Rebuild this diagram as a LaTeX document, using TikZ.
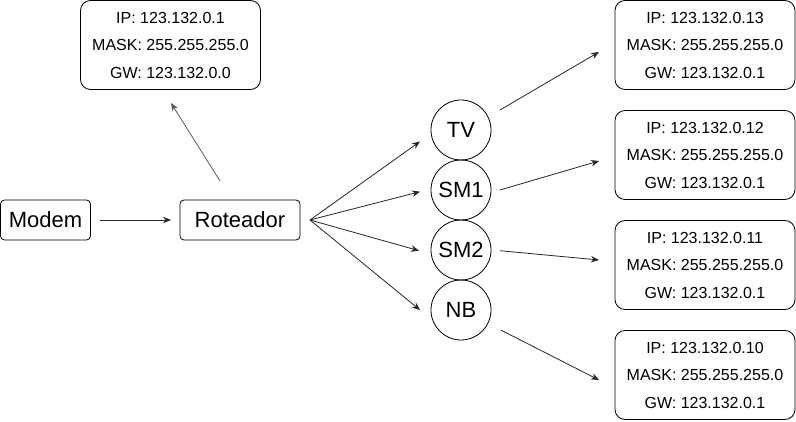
\documentclass[tikz,border=0pt]{standalone}
\usepackage{fontspec}
\setmainfont{Liberation Sans}
\usetikzlibrary{arrows.meta}
\tikzset{
  info/.style={draw, rounded corners=10pt, minimum width=180pt, minimum height=89pt, inner sep=0pt, outer sep=0pt, align=center, font=\fontsize{16}{27.5}\selectfont, line width=0.8pt},
  dev/.style={draw, rounded corners=4pt, minimum height=40pt, inner sep=0pt, outer sep=0pt, font=\fontsize{22}{26}\selectfont, line width=0.8pt},
  circ/.style={draw, circle, minimum size=60pt, inner sep=0pt, outer sep=0pt, font=\fontsize{22}{26}\selectfont, line width=0.8pt},
  arr/.style={-{Stealth[length=8pt,width=6.5pt]}, line width=0.8pt, draw=black!85}
}
\begin{document}
\begin{tikzpicture}[x=1pt,y=-1pt]
\useasboundingbox (0,0) rectangle (796,422);
\node[dev, minimum width=90pt] (modem) at (45.5,220) {Modem};
\node[dev, minimum width=120pt] (rot) at (240,220) {Roteador};
\node[info] (gw) at (170.5,45) {IP: 123.132.0.1\\MASK: 255.255.255.0\\GW: 123.132.0.0};
\node[circ] (tv) at (461,130) {TV};
\node[circ] (sm1) at (461,190) {SM1};
\node[circ] (sm2) at (461,250) {SM2};
\node[circ] (nb) at (461,310) {NB};
\node[info] (b1) at (705,45) {IP: 123.132.0.13\\MASK: 255.255.255.0\\GW: 123.132.0.1};
\node[info] (b2) at (705,155) {IP: 123.132.0.12\\MASK: 255.255.255.0\\GW: 123.132.0.1};
\node[info] (b3) at (705,265) {IP: 123.132.0.11\\MASK: 255.255.255.0\\GW: 123.132.0.1};
\node[info] (b4) at (705,375) {IP: 123.132.0.10\\MASK: 255.255.255.0\\GW: 123.132.0.1};
\draw[arr] ([xshift=9.5pt]modem.east) -- ([xshift=-9pt]rot.west);
\draw[arr, draw=black!65] ([shift={(-20,-19)}]rot.north) -- ([shift={(0.5,13.5)}]gw.south);
\draw[arr] ([xshift=10pt]rot.east) -- ([shift={(-41,11.5)}]tv.center);
\draw[arr] ([xshift=10pt]rot.east) -- ([shift={(-41,1.7)}]sm1.center);
\draw[arr] ([xshift=10pt]rot.east) -- ([shift={(-42,0.7)}]sm2.center);
\draw[arr] ([xshift=10pt]rot.east) -- ([shift={(-41,0)}]nb.center);
\draw[arr] ([shift={(39,-20)}]tv.center) -- ([shift={(-16,7)}]b1.west);
\draw[arr] ([shift={(39,0)}]sm1.center) -- ([shift={(-16,6)}]b2.west);
\draw[arr] ([shift={(39,0.7)}]sm2.center) -- ([shift={(-16,-5)}]b3.west);
\draw[arr] ([shift={(39.7,20)}]nb.center) -- ([shift={(-16,5)}]b4.west);
\end{tikzpicture}
\end{document}
